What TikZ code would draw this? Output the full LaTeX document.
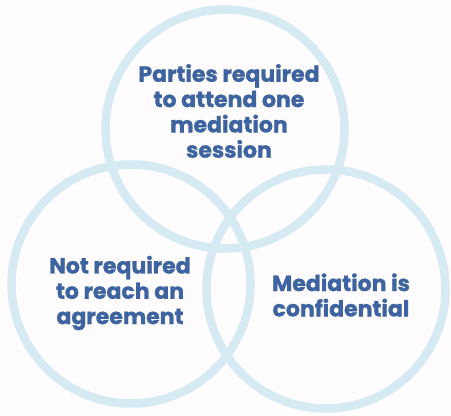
\documentclass[tikz,border=0pt]{standalone}
\usepackage{fontspec}
\setmainfont{Poppins}[BoldFeatures={FakeBold=1.2}]
\definecolor{ringblue}{HTML}{D5EAF3}
\definecolor{textblue}{HTML}{3D64A1}
\definecolor{bgwhite}{HTML}{FEFCFC}
\begin{document}
\begin{tikzpicture}[x=1pt,y=1pt,
  ring/.style={circle,draw=ringblue,line width=8.5pt,minimum size=239pt,inner sep=0pt},
  label/.style={text=textblue,align=center,font=\fontsize{22}{25.3}\selectfont\bfseries,inner sep=0pt}]
\fill[bgwhite] (0,0) rectangle (451,416);
\useasboundingbox (0,0) rectangle (451,416);
\node[ring] (top) at (225,287) {};
\node[ring] (left) at (131,132) {};
\node[ring] (right) at (326,127) {};
\node[label] (ttop) at (229,305) {Parties required\\to attend one\\mediation\\session};
\node[label] (tleft) at (120,123) {Not required\\to reach an\\agreement};
\node[label] (tright) at (341,121) {Mediation is\\confidential};
\end{tikzpicture}
\end{document}
